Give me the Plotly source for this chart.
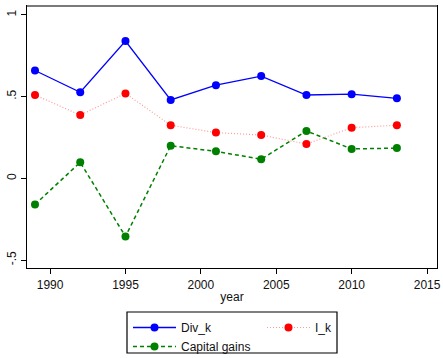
import plotly.graph_objects as go

# Survey years and the three ratios plotted against them
years = [1989, 1992, 1995, 1998, 2001, 2004, 2007, 2010, 2013]
div_k = [0.66, 0.527, 0.84, 0.48, 0.57, 0.626, 0.51, 0.515, 0.49]
i_k = [0.51, 0.387, 0.52, 0.325, 0.28, 0.265, 0.21, 0.31, 0.325]
capital_gains = [-0.16, 0.098, -0.356, 0.20, 0.165, 0.117, 0.29, 0.18, 0.185]

x_ticks = [1990, 1995, 2000, 2005, 2010, 2015]
y_ticks = [-0.5, 0, 0.5, 1]
y_tick_text = ["-.5", "0", ".5", "1"]

W, H = 443, 358
ML, MR, MT, MB = 27, 6, 6, 90
PW, PH = W - ML - MR, H - MT - MB


def px_x(px):
    return (px - ML) / PW


def px_y(py):
    return (H - MB - py) / PH


FONT = "Liberation Sans, Arial, sans-serif"

fig = go.Figure()
fig.add_trace(go.Scatter(
    x=years, y=div_k, name="Div_k", mode="lines+markers",
    line=dict(color="#0000ff", width=1.3),
    marker=dict(color="#0000ff", size=8),
    legend="legend",
))
fig.add_trace(go.Scatter(
    x=years, y=capital_gains, name="Capital gains", mode="lines+markers",
    line=dict(color="#008000", width=1.5, dash="4px,3px"),
    marker=dict(color="#008000", size=8),
    legend="legend",
))
fig.add_trace(go.Scatter(
    x=years, y=i_k, name="I_k", mode="lines+markers",
    line=dict(color="#ff9a9a", width=1.2, dash="1px,2px"),
    marker=dict(color="#ff0000", size=8),
    legend="legend2",
))

legend_common = dict(
    orientation="v", xanchor="left", yanchor="top",
    bgcolor="rgba(0,0,0,0)", borderwidth=0,
    font=dict(family=FONT, size=12, color="#111"),
    itemwidth=43, tracegroupgap=0,
)

fig.update_layout(
    width=W, height=H,
    margin=dict(l=ML, r=MR, t=MT, b=MB, autoexpand=False),
    paper_bgcolor="white", plot_bgcolor="white",
    font=dict(family=FONT, size=12, color="#111"),
    showlegend=True,
    legend=dict(x=px_x(128), y=px_y(313), **legend_common),
    legend2=dict(x=px_x(262), y=px_y(313), **legend_common),
    xaxis=dict(
        range=[1988.47, 2015.66], tickvals=x_ticks,
        showgrid=False, zeroline=False,
        showline=True, linecolor="black", linewidth=1.2, mirror=True,
        ticks="outside", ticklen=5, tickcolor="black", tickwidth=1,
        tickfont=dict(family=FONT, size=12, color="#111"),
        title=dict(text="year", font=dict(family=FONT, size=12, color="#111"), standoff=2),
    ),
    yaxis=dict(
        range=[-0.549, 1.055], tickvals=y_ticks, ticktext=y_tick_text,
        tickangle=-90,
        showgrid=False, zeroline=False,
        showline=True, linecolor="black", linewidth=1.2, mirror=True,
        ticks="outside", ticklen=5, tickcolor="black", tickwidth=1,
        tickfont=dict(family=FONT, size=12, color="#111"),
    ),
    shapes=[
        # gray top edge of the plot region
        dict(type="line", xref="paper", yref="paper", x0=0, x1=1, y0=1, y1=1,
             line=dict(color="#7a7a7a", width=2)),
        # frame around the legend
        dict(type="rect", xref="paper", yref="paper",
             x0=px_x(127), x1=px_x(337), y0=px_y(312), y1=px_y(353),
             line=dict(color="black", width=1.2), fillcolor="rgba(0,0,0,0)"),
    ],
)

fig.write_html("out.html")
